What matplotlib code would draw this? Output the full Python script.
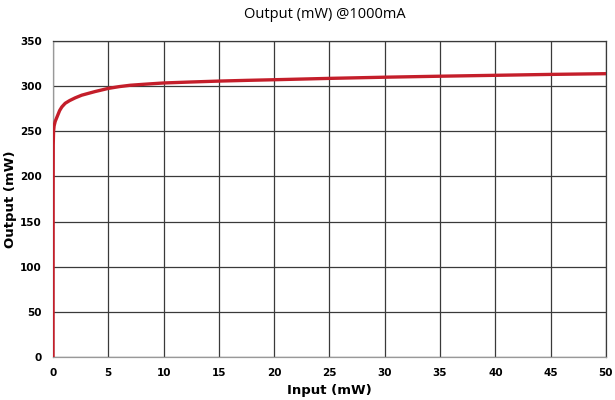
import matplotlib
matplotlib.use("Agg")
import matplotlib.pyplot as plt

# curve (input mW -> output mW)
input_mw = [0, 0.01, 0.02, 0.05, 0.1, 0.2, 0.4, 0.6, 0.8, 1.1, 1.5, 2.0, 2.6, 3.2, 3.8,
            5, 6, 7, 8.5, 10, 12.5, 15, 17.5, 20, 25, 30, 35, 40, 45, 50]
output_mw = [0, 180, 235, 250, 256, 261, 267, 273, 277, 281, 284, 287, 290, 292, 294,
             297.5, 299.5, 301, 302.3, 303.5, 304.6, 305.6, 306.4, 307.1, 308.6, 309.9,
             311, 312, 313, 313.8]

x_ticks = list(range(0, 51, 5))
y_ticks = list(range(0, 351, 50))

fig = plt.figure(figsize=(6.15, 4), dpi=100)
ax = fig.add_axes([0.0862, 0.1075, 0.899, 0.79])

ax.plot(input_mw, output_mw, color="#c41e2a", lw=2.4, solid_capstyle="round", zorder=3)

ax.set_xlim(0, 50)
ax.set_ylim(0, 350)
ax.set_xticks(x_ticks)
ax.set_yticks(y_ticks)
ax.grid(True, color="#3a3a3a", lw=0.9)
ax.set_axisbelow(True)
for s in ax.spines.values():
    s.set_color("#3a3a3a")
    s.set_linewidth(0.9)
ax.spines["left"].set_color("#999999")
ax.spines["bottom"].set_color("#999999")
ax.tick_params(length=0, labelsize=7.5, pad=8)
for lab in ax.get_xticklabels() + ax.get_yticklabels():
    lab.set_fontweight("bold")

ax.set_xlabel("Input (mW)", fontsize=9.5, fontweight="bold", labelpad=4)
ax.set_ylabel("Output (mW)", fontsize=9.5, fontweight="bold", labelpad=2)
fig.text(0.528, 0.965, "Output (mW) @1000mA", ha="center", va="center",
         fontsize=10.5, family="Open Sans")

fig.savefig("out.png", dpi=100)
